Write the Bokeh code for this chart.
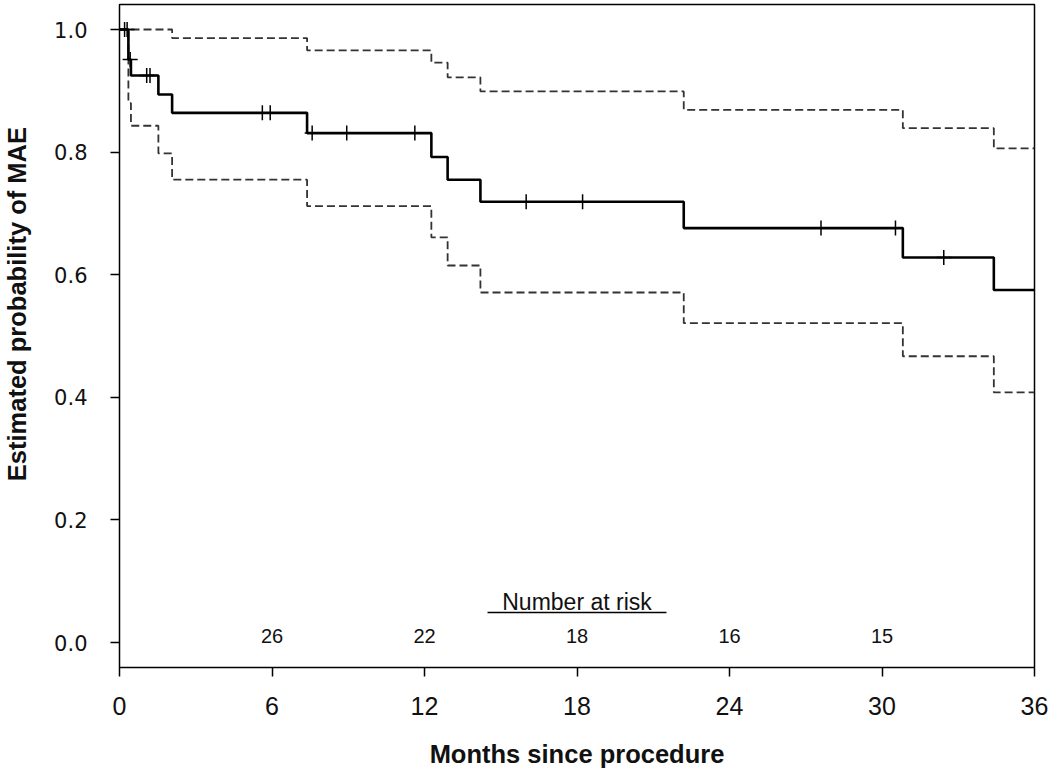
import math
import numpy as np
from bokeh.plotting import figure
from bokeh.models import Range1d, FixedTicker, NumeralTickFormatter, Label
from bokeh.embed import file_html
from bokeh.resources import INLINE

# ---- data ----
event_times = [0.35, 0.45, 1.53, 2.07, 7.38, 12.27, 12.91, 14.2, 22.2, 30.82, 34.4]
surv        = [0.951, 0.925, 0.894, 0.864, 0.831, 0.792, 0.755, 0.719, 0.676, 0.628, 0.575]
upper_ci    = [1.0, 1.0, 1.0, 0.986, 0.966, 0.946, 0.922, 0.899, 0.869, 0.839, 0.806]
lower_ci    = [0.88, 0.843, 0.798, 0.755, 0.712, 0.661, 0.615, 0.571, 0.521, 0.467, 0.408]
censor_times = [0.2, 0.3, 0.42, 1.07, 1.2, 5.62, 5.93, 7.58, 8.94, 11.62, 16.0, 18.22, 27.6, 30.53, 32.43]
risk_times  = [6, 12, 18, 24, 30]
risk_counts = ["26", "22", "18", "16", "15"]
x_ticks = [0, 6, 12, 18, 24, 30, 36]
y_ticks = [0.0, 0.2, 0.4, 0.6, 0.8, 1.0]
t_max = 36

def step_xy(times, vals):
    xs = [0.0] + list(times) + [t_max]
    ys = [1.0] + list(vals) + [vals[-1]]
    return xs, ys

def level_at(t):
    s = 1.0
    for et, v in zip(event_times, surv):
        if et <= t:
            s = v
    return s

p = figure(width=1048, height=770,
           x_range=Range1d(0, t_max), y_range=Range1d(-25/613, 1 + 25/613),
           output_backend="svg", toolbar_location=None,
           min_border_left=119, min_border_right=14, min_border_top=4, min_border_bottom=103)
p.title = None
p.grid.visible = False
p.outline_line_color = "black"
p.outline_line_width = 1.5
p.background_fill_color = "white"
p.border_fill_color = "white"

for ax in (p.xaxis, p.yaxis):
    ax.axis_line_color = None
    ax.major_tick_line_color = "black"
    ax.major_tick_line_width = 1.5
    ax.major_tick_in = 0
    ax.major_tick_out = 9
    ax.minor_tick_line_color = None
    ax.major_label_text_color = "#111111"
    ax.axis_label_text_font = "Liberation Sans"
    ax.axis_label_text_font_size = "25.5px"
    ax.axis_label_text_font_style = "bold"
    ax.axis_label_text_color = "#111111"

p.xaxis.ticker = FixedTicker(ticks=x_ticks)
p.yaxis.ticker = FixedTicker(ticks=y_ticks)
p.yaxis.formatter = NumeralTickFormatter(format="0.0")
p.xaxis.major_label_text_font = "Liberation Sans"
p.xaxis.major_label_text_font_size = "25px"
p.xaxis.major_label_standoff = 20
p.yaxis.major_label_text_font = "DejaVu Sans"
p.yaxis.major_label_text_font_size = "21px"
p.yaxis.major_label_standoff = 23

p.xaxis.axis_label = "Months since procedure"
p.xaxis.axis_label_standoff = 22
p.yaxis.axis_label = "\u00a0" * 9 + "Estimated probability of MAE"
p.yaxis.axis_label_standoff = 20

# confidence limits
ux, uy = step_xy(event_times, upper_ci)
lx, ly = step_xy(event_times, lower_ci)
p.step(ux, uy, mode="after", line_color="#333333", line_width=1.8, line_dash="8 4")
p.step(lx, ly, mode="after", line_color="#333333", line_width=1.8, line_dash="8 4")

# survival curve
sx, sy = step_xy(event_times, surv)
p.step(sx, sy, mode="after", line_color="black", line_width=2.6)

# censor marks
cy = [level_at(t) for t in censor_times]
p.scatter(censor_times, cy, marker="cross", size=15, line_color="black", line_width=1.5)

# number at risk
p.add_layout(Label(x=18.0, y=(642 - 601) / 613, text="Number at risk",
                   text_font="Liberation Sans", text_font_size="23px",
                   text_align="center", text_baseline="middle", text_color="#111111"))
p.segment(x0=[14.48], y0=[(642 - 612) / 613], x1=[21.52], y1=[(642 - 612) / 613],
          line_color="black", line_width=1.5)
for t, c in zip(risk_times, risk_counts):
    p.add_layout(Label(x=t, y=(642 - 635) / 613, text=c,
                       text_font="Liberation Sans", text_font_size="20px",
                       text_align="center", text_baseline="middle", text_color="#111111"))

open("out.html", "w").write(file_html(p, INLINE))
